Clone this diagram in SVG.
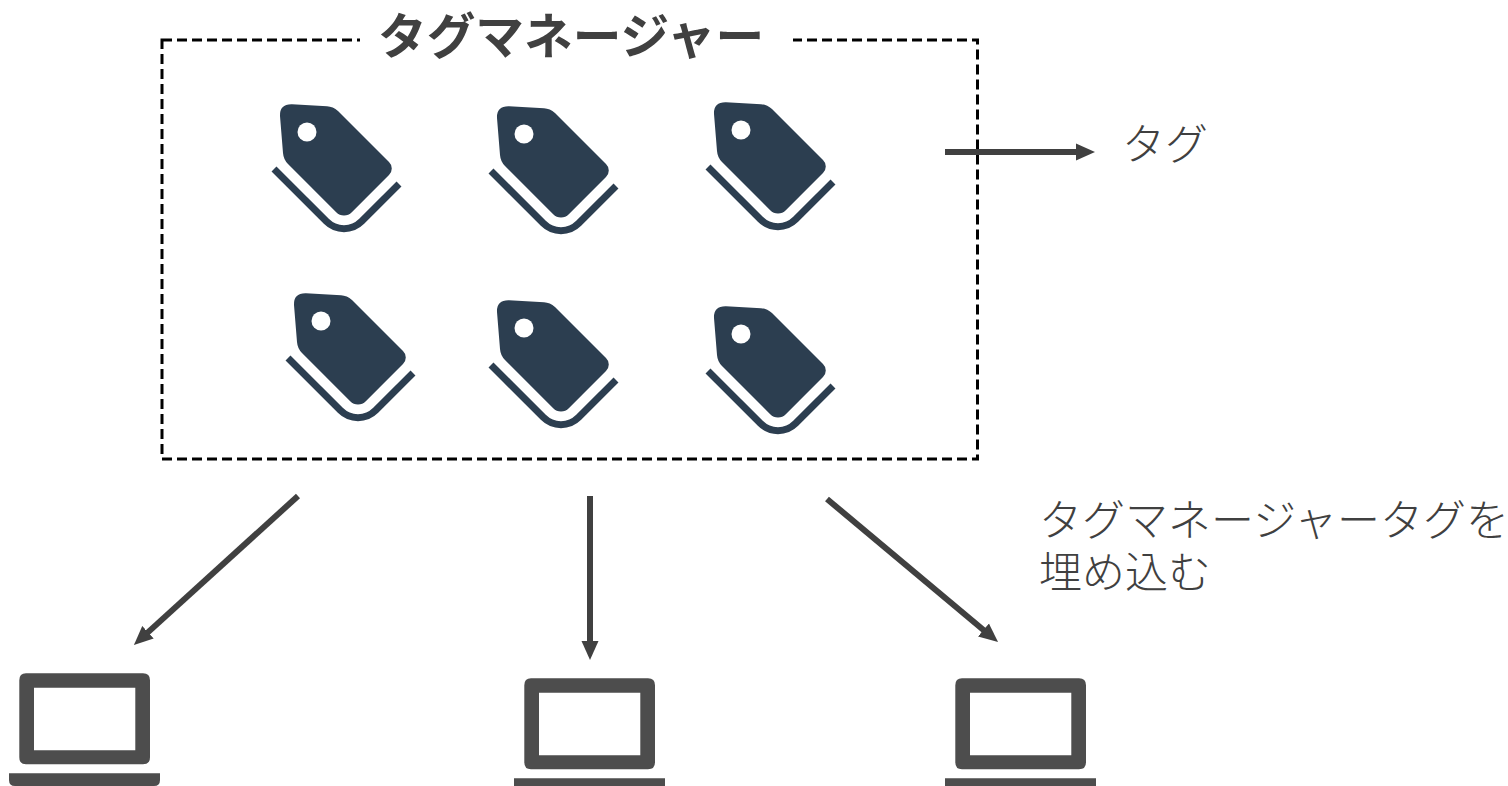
<svg xmlns="http://www.w3.org/2000/svg" width="1508" height="786" viewBox="0 0 1508 786">
<style>
text{font-family:"Noto Sans CJK JP","Noto Sans",sans-serif;fill:#404040}
.lbl{font-size:43px;font-weight:300}
.ttl{font-size:48.700px;font-weight:700}
.frame{fill:none;stroke:#000;stroke-width:3;stroke-dasharray:10 5}
.conn{fill:none;stroke:#404040;stroke-width:6;marker-end:url(#arr)}
</style>
<defs>
<marker id="arr" markerUnits="userSpaceOnUse" markerWidth="20" markerHeight="18" refX="2" refY="9" orient="auto"><path d="M0 0.500L19 9L0 17.500z" fill="#404040"/></marker>
<g id="tag">
<path fill="#2c3e50" d="M292 104.300L327 106.200Q333 106.500 338 111L389 162A9 9 0 0 1 389 175L351.800 212.200A11 11 0 0 1 336.200 212.200L288 164Q283.500 159.500 283 153L280 116Q279.500 104 292 104.300Z"/>
<circle cx="307" cy="132" r="9.500" fill="#fff"/>
<path fill="none" stroke="#2c3e50" stroke-width="7" d="M274 169L326.300 221.300A25 25 0 0 0 361.700 221.300L399 184"/>
</g>
<g id="laptop">
<path fill="#4d4d4d" fill-rule="evenodd" d="M26 673.300H143Q150 673.300 150 680.300V757.300Q150 764.300 143 764.300H26Q19.300 764.300 19.300 757.300V680.300Q19.300 673.300 26 673.300ZM34 687.700V750.300H135.300V687.700Z"/>
<path fill="#4d4d4d" d="M9 773.300H160V780Q160 786 154 786H15Q9 786 9 780Z"/>
</g>
</defs>
<g id="manager">
<rect class="frame" x="162" y="40" width="815.500" height="419"/>
<rect x="360" y="20" width="433" height="40" fill="#fff"/>
<text class="ttl" x="378" y="54">タグマネージャー</text>
</g>
<g id="tag1"><use href="#tag"/></g>
<g id="tag2"><use href="#tag" x="217" y="2"/></g>
<g id="tag3"><use href="#tag" x="434" y="-2"/></g>
<g id="tag4"><use href="#tag" x="14" y="189"/></g>
<g id="tag5"><use href="#tag" x="217" y="196"/></g>
<g id="tag6"><use href="#tag" x="434" y="202"/></g>
<g id="laptop1"><use href="#laptop"/></g>
<g id="laptop2"><use href="#laptop" x="505" y="5"/></g>
<g id="laptop3"><use href="#laptop" x="936" y="5"/></g>
<g id="connectors">
<path class="conn" d="M945 152H1078"/>
<path class="conn" d="M298 496L146.500 633.600"/>
<path class="conn" d="M590 496V643"/>
<path class="conn" d="M827 499L985 631.200"/>
</g>
<g id="label-tag"><text class="lbl" x="1122" y="160">タグ</text></g>
<g id="label-embed">
<text class="lbl" x="1039" y="536">タグマネージャータグを</text>
<text class="lbl" x="1039" y="588">埋め込む</text>
</g>
</svg>
